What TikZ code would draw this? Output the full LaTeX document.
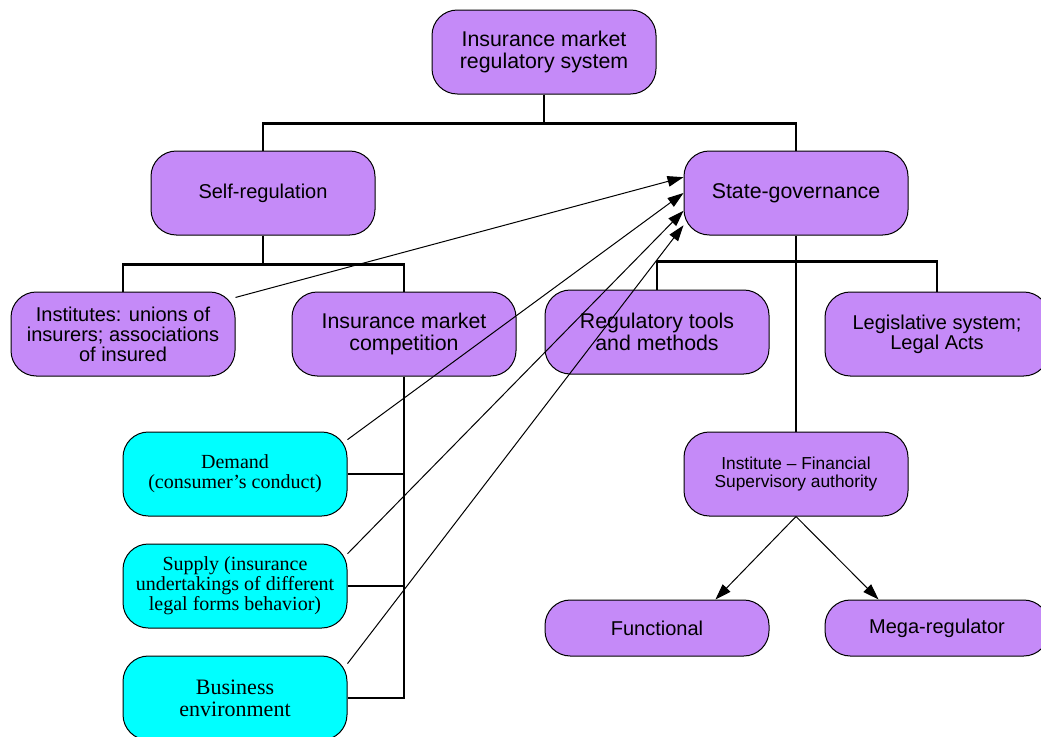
\documentclass[tikz,border=0pt]{standalone}
\usepackage{fontspec}
\setmainfont{Liberation Sans}
\newfontfamily\serifbox{Liberation Serif}
\usepackage{tikz}
\usetikzlibrary{arrows.meta}
\definecolor{boxpurple}{RGB}{197,138,248}
\definecolor{boxcyan}{RGB}{0,255,255}

\begin{document}
\begin{tikzpicture}[x=0.75pt,y=-0.75pt,
  box/.style={draw,line width=0.75pt,rounded corners=19pt,minimum width=168pt,minimum height=63pt,inner sep=0pt,align=center,fill=boxpurple},
  lowbox/.style={box,minimum height=42pt},
  cyanbox/.style={box,fill=boxcyan,font=\serifbox\fontsize{15}{15}\selectfont},
  big/.style={font=\fontsize{16}{16}\selectfont},
  mid/.style={font=\fontsize{15}{15}\selectfont},
  small/.style={font=\fontsize{13}{13.5}\selectfont},
  tree/.style={line width=1.6pt},
  feed/.style={-{Triangle[length=12pt,width=8pt]},line width=0.75pt}]
\useasboundingbox (0,0) rectangle (1041,736);

\node[box,big] at (544,52) (top) {Insurance market\\regulatory system};
\node[box,mid] at (263,193) (self) {Self-regulation};
\node[box,big] at (796,193) (state) {State-governance};
\node[box,mid] at (123,334) (inst) {Institutes: unions of\\insurers; associations\\of insured};
\node[box,big] at (404,334) (comp) {Insurance market\\competition};
\node[box,big] at (657,332) (tools) {Regulatory tools\\and methods};
\node[box,mid] at (937,334) (legis) {Legislative system;\\Legal Acts};
\node[box,small] at (796,474) (fin) {Institute -- Financial\\Supervisory authority};
\node[lowbox,mid] at (657,628) (func) {Functional};
\node[lowbox,mid] at (937,628) (mega) {Mega-regulator};
\node[cyanbox] at (235,474) (demand) {Demand\\(consumer’s conduct)};
\node[cyanbox] at (235,586) (supply) {Supply (insurance\\undertakings of different\\legal forms behavior)};
\node[cyanbox,font=\serifbox\fontsize{16.5}{16.5}\selectfont] at (235,698) (bus) {Business\\environment};

\draw[tree] (top.south) -- ++(0,29) -| (self.north);
\draw[tree] (top.south) -- ++(0,29) -| (state.north);
\draw[tree] (self.south) -- ++(0,29) -| (inst.north);
\draw[tree] (self.south) -- ++(0,29) -| (comp.north);
\draw[tree] (state.south) -- (fin.north);
\draw[tree] (tools.north) -- ++(0,-28) -| (legis.north);
\draw[tree] (comp.south) |- (bus.east);
\draw[tree] (demand.east) -| (comp.south);
\draw[tree] (supply.east) -| (comp.south);

\path[feed] (inst.18) edge (state.172);
\path[feed] (demand.17) edge (state.180);
\path[feed] (supply.16) edge (state.189);
\path[feed] (bus.17) edge (state.196);
\path[feed] (fin.south) edge (func.26);
\path[feed] (fin.south) edge (mega.154);
\end{tikzpicture}
\end{document}
